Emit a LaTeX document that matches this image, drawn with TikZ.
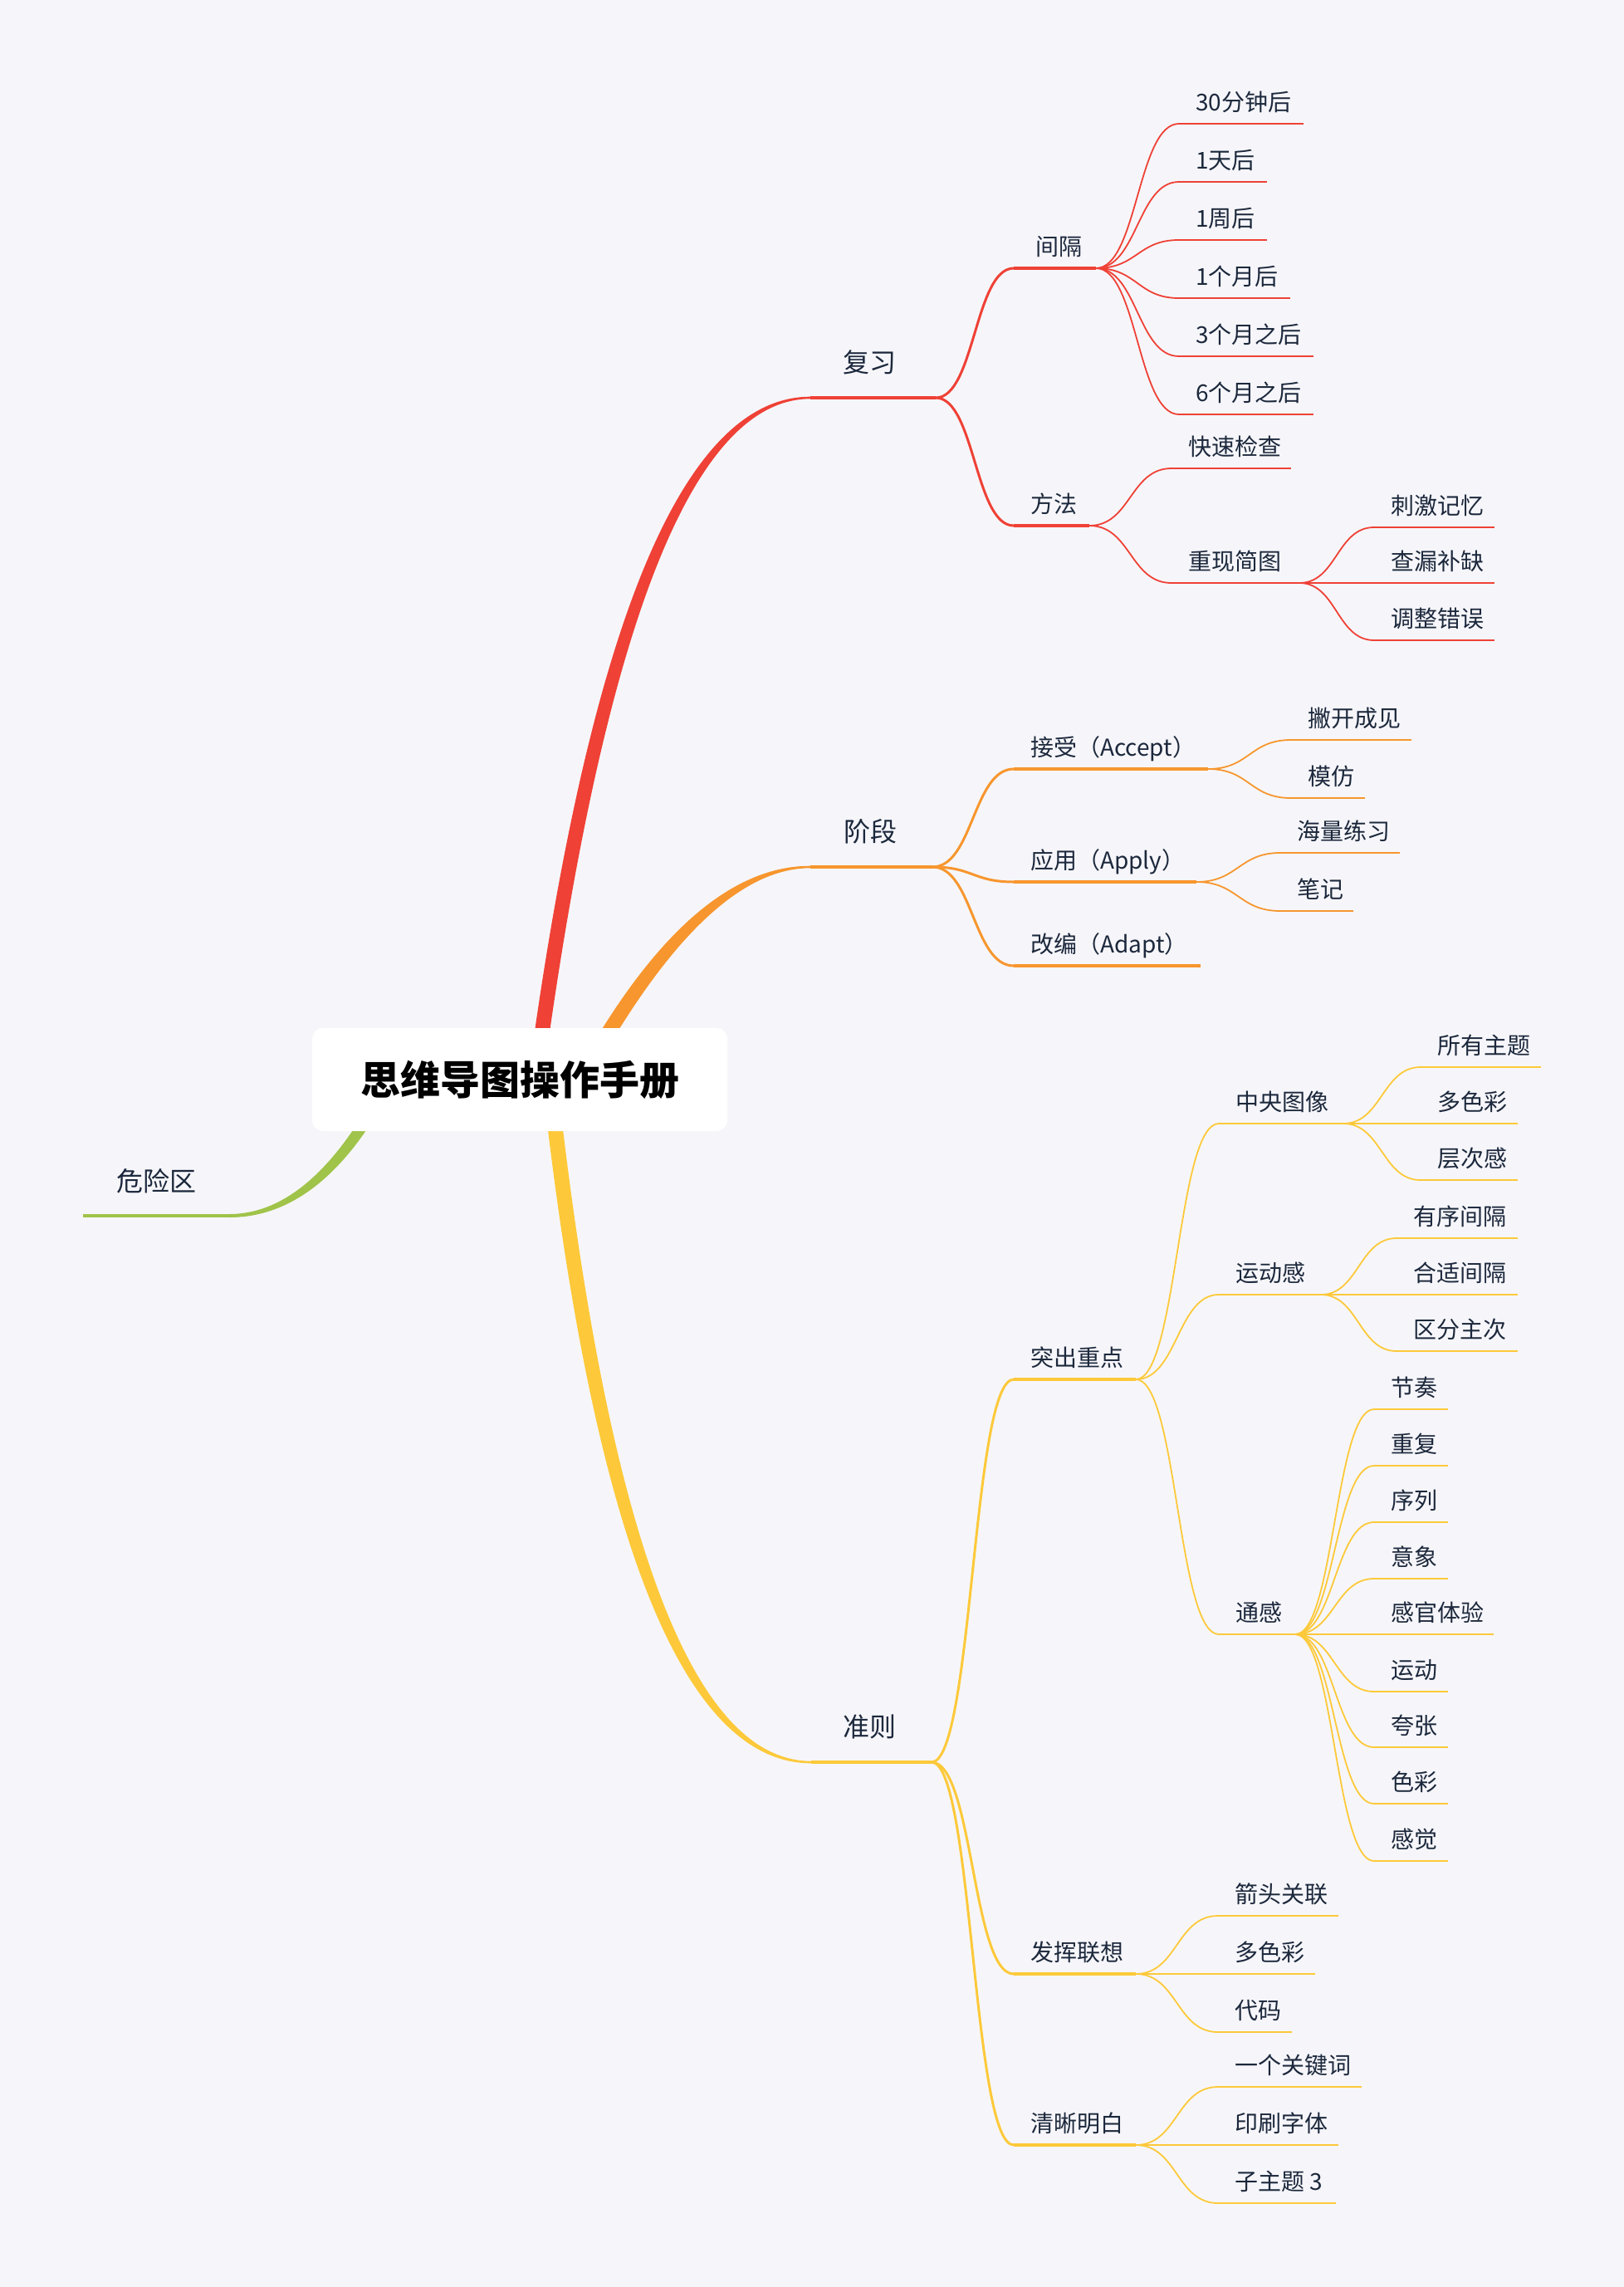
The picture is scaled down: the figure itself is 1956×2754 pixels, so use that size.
\documentclass[tikz,border=0pt]{standalone}
\usepackage{fontspec}
\setmainfont{Noto Sans CJK SC}
\usetikzlibrary{calc}
\definecolor{bg}{RGB}{246,246,250}
\definecolor{cred}{RGB}{239,65,54}
\definecolor{corg}{RGB}{247,150,46}
\definecolor{cyel}{RGB}{253,201,58}
\definecolor{cgrn}{RGB}{160,195,74}
\definecolor{txt}{RGB}{28,40,60}
% topic: name, x start, x end, y, text x, line width, colour, text
\newcommand\tp[8]{%
  \coordinate (#1-s) at (#2,#4);
  \coordinate (#1-e) at (#3,#4);
  \draw[line width=#6pt, draw=#7] (#1-s) -- (#1-e);
  \node[lbl, anchor=base west] (#1) at (#5,#4-16) {#8};
}
% connector: parent, child, width, colour, control distance
\newcommand\cn[5]{%
  \draw[line width=#3pt, draw=#4] (#1-e) to[out=0,in=180,out distance=#5pt,in distance=#5pt] (#2-s);
}
\begin{document}
\begin{tikzpicture}[x=1pt,y=-1pt,
  lbl/.style={font=\fontsize{28}{34}\selectfont, text=txt, inner sep=0pt},
  mtitle/.style={font=\fontsize{32}{38}\selectfont, text=txt, inner sep=0pt},
  rootbox/.style={fill=white, rounded corners=13pt, minimum width=500pt, minimum height=124pt,
    inner sep=0pt, font=\fontsize{48}{56}\selectfont\bfseries, text=black}]
\useasboundingbox (0,0) rectangle (1956,2754);
\fill[bg] (0,0) rectangle (1956,2754);

% start points of the main branches (hidden under the central box)
\coordinate (rS) at (645,1300);
\coordinate (oS) at (700,1300);
\coordinate (yS) at (662,1300);
\coordinate (gS) at (469,1300);

% ---------- main topics ----------
\coordinate (fx-s) at (976,479); \coordinate (fx-e) at (1127,479);
\draw[line width=4pt, cred] (fx-s) -- (fx-e);
\node[mtitle, anchor=base] (fx) at (1047,448) {复习};

\coordinate (jd-s) at (976,1044); \coordinate (jd-e) at (1123,1044);
\draw[line width=4pt, corg] (jd-s) -- (jd-e);
\node[mtitle, anchor=base] (jd) at (1048,1013) {阶段};

\coordinate (zz-s) at (977,2122); \coordinate (zz-e) at (1122,2122);
\draw[line width=4pt, cyel] (zz-s) -- (zz-e);
\node[mtitle, anchor=base] (zz) at (1047,2091) {准则};

\coordinate (wx-s) at (100,1464); \coordinate (wx-e) at (276,1464);
\draw[line width=4pt, cgrn] (wx-s) -- (wx-e);
\node[mtitle, anchor=base] (wx) at (188,1434) {危险区};

% ---------- tapered main branches ----------
\fill[cred] ($(rS)+(-8.9,-1.2)$) .. controls ($(rS)+(64.4,-548.6)$) and ($(fx-s)+(-153.3,-1.3)$) .. ($(fx-s)+(0,-1.3)$)
  -- ($(fx-s)+(0,1.3)$) .. controls ($(fx-s)+(-141.4,1.3)$) and ($(rS)+(82.2,-546.1)$) .. ($(rS)+(8.9,1.2)$) -- cycle;
\fill[corg] ($(oS)+(-7.9,-4.3)$) .. controls ($(oS)+(84.4,-173)$) and ($(jd-s)+(-97,-1.3)$) .. ($(jd-s)+(0,-1.3)$)
  -- ($(jd-s)+(0,1.3)$) .. controls ($(jd-s)+(-84.3,1.3)$) and ($(oS)+(102.3,-168.4)$) .. ($(oS)+(7.9,4.3)$) -- cycle;
\fill[cyel] ($(yS)+(-8.95,1)$) .. controls ($(yS)+(51.7,549.2)$) and ($(zz-s)+(-155.3,1.3)$) .. ($(zz-s)+(0,1.3)$)
  -- ($(zz-s)+(0,-1.3)$) .. controls ($(zz-s)+(-143.4,-1.3)$) and ($(yS)+(69.55,546.8)$) .. ($(yS)+(8.95,-1)$) -- cycle;
\fill[cgrn] ($(gS)+(-6.2,-3.2)$) .. controls ($(gS)+(-62.8,107.3)$) and ($(wx-e)+(67.9,-2)$) .. ($(wx-e)+(0,-2)$)
  -- ($(wx-e)+(0,2)$) .. controls ($(wx-e)+(77.4,2)$) and ($(gS)+(-49.2,111.4)$) .. ($(gS)+(6.2,3.2)$) -- cycle;

% ---------- central topic ----------
\node[rootbox] (root) at (626,1300) {思维导图操作手册};

% ---------- 复习 ----------
\tp{jg}{1221}{1320}{323}{1247}{3.2}{cred}{间隔}
\tp{ff}{1221}{1312}{633}{1241}{3.2}{cred}{方法}
\tp{a1}{1420}{1570}{149}{1440}{2}{cred}{30分钟后}
\tp{a2}{1420}{1526}{219}{1440}{2}{cred}{1天后}
\tp{a3}{1420}{1526}{289}{1440}{2}{cred}{1周后}
\tp{a4}{1420}{1554}{359}{1440}{2}{cred}{1个月后}
\tp{a5}{1420}{1582}{429}{1440}{2}{cred}{3个月之后}
\tp{a6}{1420}{1582}{499}{1440}{2}{cred}{6个月之后}
\tp{b1}{1411}{1555}{564}{1431}{2}{cred}{快速检查}
\tp{b2}{1411}{1565}{702}{1431}{2}{cred}{重现简图}
\tp{c1}{1655}{1800}{635}{1675}{1.8}{cred}{刺激记忆}
\tp{c2}{1655}{1800}{702}{1675}{1.8}{cred}{查漏补缺}
\tp{c3}{1655}{1800}{771}{1675}{1.8}{cred}{调整错误}
\cn{fx}{jg}{3}{cred}{47}
\cn{fx}{ff}{3}{cred}{47}
\foreach \k in {a1,a2,a3,a4,a5,a6}{\cn{jg}{\k}{1.8}{cred}{50}}
\cn{ff}{b1}{1.8}{cred}{50}
\cn{ff}{b2}{1.8}{cred}{50}
\foreach \k in {c1,c2,c3}{\cn{b2}{\k}{1.8}{cred}{45}}

% ---------- 阶段 ----------
\tp{d1}{1221}{1455}{926}{1241}{3.2}{corg}{接受（Accept）}
\tp{d2}{1221}{1441}{1062}{1241}{3.2}{corg}{应用（Apply）}
\tp{d3}{1221}{1446}{1163}{1241}{3.2}{corg}{改编（Adapt）}
\tp{e1}{1555}{1700}{891}{1575}{2}{corg}{撇开成见}
\tp{e2}{1555}{1644}{961}{1575}{2}{corg}{模仿}
\tp{f1}{1542}{1686}{1027}{1562}{2}{corg}{海量练习}
\tp{f2}{1542}{1630}{1097}{1562}{2}{corg}{笔记}
\foreach \k in {d1,d2,d3}{\cn{jd}{\k}{3}{corg}{49}}
\cn{d1}{e1}{1.8}{corg}{50}
\cn{d1}{e2}{1.8}{corg}{50}
\cn{d2}{f1}{1.8}{corg}{50}
\cn{d2}{f2}{1.8}{corg}{50}

% ---------- 准则 ----------
\tp{g1}{1221}{1368}{1661}{1241}{3.2}{cyel}{突出重点}
\tp{g2}{1221}{1368}{2377}{1241}{3.2}{cyel}{发挥联想}
\tp{g3}{1221}{1368}{2583}{1241}{3.2}{cyel}{清晰明白}
\tp{h1}{1468}{1618}{1353}{1488}{2}{cyel}{中央图像}
\tp{h2}{1468}{1591}{1559}{1488}{2}{cyel}{运动感}
\tp{h3}{1468}{1560}{1968}{1488}{2}{cyel}{通感}
\tp{i1}{1711}{1856}{1285}{1731}{1.8}{cyel}{所有主题}
\tp{i2}{1711}{1828}{1353}{1731}{1.8}{cyel}{多色彩}
\tp{i3}{1711}{1828}{1421}{1731}{1.8}{cyel}{层次感}
\tp{j1}{1682}{1828}{1491}{1702}{1.8}{cyel}{有序间隔}
\tp{j2}{1682}{1828}{1559}{1702}{1.8}{cyel}{合适间隔}
\tp{j3}{1682}{1828}{1627}{1702}{1.8}{cyel}{区分主次}
\tp{k1}{1655}{1744}{1697}{1675}{1.8}{cyel}{节奏}
\tp{k2}{1655}{1744}{1765}{1675}{1.8}{cyel}{重复}
\tp{k3}{1655}{1744}{1833}{1675}{1.8}{cyel}{序列}
\tp{k4}{1655}{1744}{1901}{1675}{1.8}{cyel}{意象}
\tp{k5}{1655}{1799}{1968}{1675}{1.8}{cyel}{感官体验}
\tp{k6}{1655}{1744}{2037}{1675}{1.8}{cyel}{运动}
\tp{k7}{1655}{1744}{2104}{1675}{1.8}{cyel}{夸张}
\tp{k8}{1655}{1744}{2172}{1675}{1.8}{cyel}{色彩}
\tp{k9}{1655}{1744}{2241}{1675}{1.8}{cyel}{感觉}
\tp{l1}{1467}{1612}{2307}{1487}{2}{cyel}{箭头关联}
\tp{l2}{1467}{1584}{2377}{1487}{2}{cyel}{多色彩}
\tp{l3}{1467}{1556}{2447}{1487}{2}{cyel}{代码}
\tp{m1}{1467}{1640}{2513}{1487}{2}{cyel}{一个关键词}
\tp{m2}{1467}{1612}{2583}{1487}{2}{cyel}{印刷字体}
\tp{m3}{1467}{1609}{2653}{1487}{2}{cyel}{子主题 3}
\foreach \k in {g1,g2,g3}{\cn{zz}{\k}{3}{cyel}{50}}
\foreach \k in {h1,h2,h3}{\cn{g1}{\k}{1.8}{cyel}{50}}
\foreach \k in {i1,i2,i3}{\cn{h1}{\k}{1.8}{cyel}{46}}
\foreach \k in {j1,j2,j3}{\cn{h2}{\k}{1.8}{cyel}{45}}
\foreach \k in {k1,k2,k3,k4,k5,k6,k7,k8,k9}{\cn{h3}{\k}{1.8}{cyel}{47}}
\foreach \k in {l1,l2,l3}{\cn{g2}{\k}{1.8}{cyel}{50}}
\foreach \k in {m1,m2,m3}{\cn{g3}{\k}{1.8}{cyel}{50}}
\end{tikzpicture}
\end{document}
